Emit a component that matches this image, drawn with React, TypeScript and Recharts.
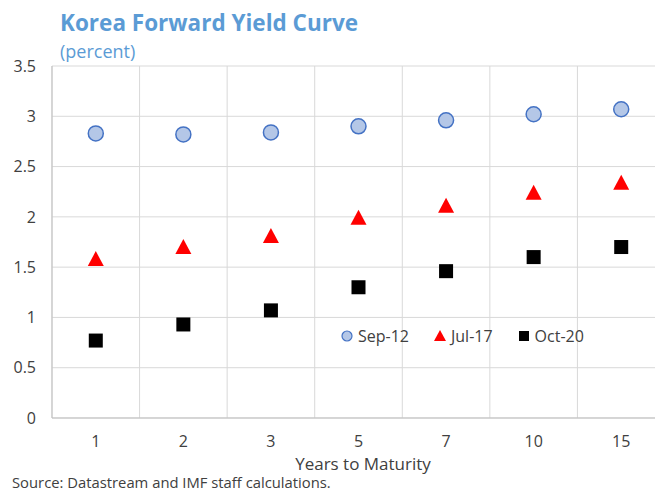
import React from 'react';
import { ComposedChart, Scatter, XAxis, YAxis, CartesianGrid } from 'recharts';

const maturities = ['1', '2', '3', '5', '7', '10', '15'];
const sep12 = [2.83, 2.82, 2.84, 2.9, 2.96, 3.02, 3.07];
const jul17 = [1.58, 1.7, 1.81, 1.99, 2.11, 2.24, 2.34];
const oct20 = [0.77, 0.93, 1.07, 1.3, 1.46, 1.6, 1.7];
const yTicks = [0, 0.5, 1, 1.5, 2, 2.5, 3, 3.5];

const data = maturities.map((m, i) => ({
  m,
  sep12: sep12[i],
  jul17: jul17[i],
  oct20: oct20[i],
}));

const FONT = '"Open Sans", "Noto Sans", sans-serif';
const TEXT = '#404040';

const Circle = (p: any) => (
  <circle cx={p.cx} cy={p.cy} r={7.5} fill="#B4C7E7" stroke="#4472C4" strokeWidth={1.5} />
);
const Tri = (p: any) => (
  <polygon
    points={`${p.cx},${p.cy - 8} ${p.cx + 8},${p.cy + 7} ${p.cx - 8},${p.cy + 7}`}
    fill="#FF0000"
  />
);
const Sq = (p: any) => (
  <rect x={p.cx - 7} y={p.cy - 7} width={14} height={14} fill="#000000" />
);

function LegendBox() {
  const item = (icon: React.ReactNode, label: string) => (
    <span style={{ display: 'inline-flex', alignItems: 'center', marginRight: 24 }}>
      <svg width={14} height={14} style={{ marginRight: 4 }}>{icon}</svg>
      {label}
    </span>
  );
  return (
    <div
      style={{
        position: 'absolute',
        left: 340,
        top: 325,
        fontFamily: FONT,
        fontSize: 16,
        color: TEXT,
        display: 'flex',
        alignItems: 'center',
      }}
    >
      {item(<circle cx={7} cy={7} r={5} fill="#B4C7E7" stroke="#4472C4" strokeWidth={1.2} />, 'Sep-12')}
      {item(<polygon points="7,1 13,12 1,12" fill="#FF0000" />, 'Jul-17')}
      {item(<rect x={2} y={2} width={10} height={10} fill="#000" />, 'Oct-20')}
    </div>
  );
}

export default function App() {
  return (
    <div
      style={{
        position: 'absolute',
        left: 0,
        top: 0,
        width: 655,
        height: 491,
        overflow: 'hidden',
        background: '#fff',
      }}
    >
      <div style={{ position: 'absolute', left: 60, top: 7, fontFamily: FONT, fontWeight: 700, fontSize: 22.5, color: '#5B9BD5' }}>
        Korea Forward Yield Curve
      </div>
      <div style={{ position: 'absolute', left: 60, top: 39, fontFamily: FONT, fontSize: 18, color: '#5B9BD5' }}>
        (percent)
      </div>
      <ComposedChart
        width={665}
        height={491}
        data={data}
        margin={{ top: 66, right: 0, left: 0, bottom: 33 }}
        style={{ position: 'absolute', left: 0, top: 0 }}
      >
        <CartesianGrid
          stroke="#D9D9D9"
          verticalCoordinatesGenerator={({ offset }: any) =>
            maturities.map((_, i) => offset.left + (i * offset.width) / maturities.length).concat([offset.left + offset.width])
          }
        />
        <XAxis
          dataKey="m"
          type="category"
          scale="band"
          height={40}
          tickSize={0}
          tickMargin={18}
          axisLine={{ stroke: '#BFBFBF' }}
          tick={{ fontFamily: FONT, fontSize: 16, fill: TEXT }}
        />
        <YAxis
          width={52}
          domain={[0, 3.5]}
          ticks={yTicks}
          tickSize={0}
          tickMargin={16}
          axisLine={{ stroke: '#BFBFBF' }}
          tick={{ fontFamily: FONT, fontSize: 16, fill: TEXT }}
        />
        <Scatter dataKey="sep12" shape={Circle} isAnimationActive={false} />
        <Scatter dataKey="jul17" shape={Tri} isAnimationActive={false} />
        <Scatter dataKey="oct20" shape={Sq} isAnimationActive={false} />
      </ComposedChart>
      <LegendBox />
      <div style={{ position: 'absolute', left: 0, width: 726, top: 454, lineHeight: 1.2, textAlign: 'center', fontFamily: FONT, fontSize: 17, color: TEXT }}>
        Years to Maturity
      </div>
      <div style={{ position: 'absolute', left: 12, top: 474, lineHeight: 1.2, fontFamily: FONT, fontSize: 14.8, color: TEXT }}>
        Source: Datastream and IMF staff calculations.
      </div>
    </div>
  );
}
